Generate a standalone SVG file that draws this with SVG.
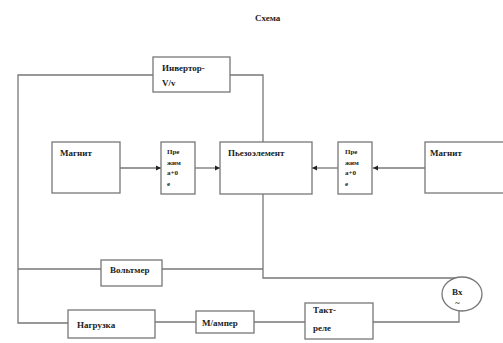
<svg xmlns="http://www.w3.org/2000/svg" width="503" height="343" viewBox="0 0 503 343">
<style>
.b{fill:#fff;stroke:#777;stroke-width:1.3}
.l{fill:none;stroke:#777;stroke-width:1.3}
.t{font-family:"Liberation Serif",serif;font-weight:bold;font-size:9px;fill:#222}
.s{font-size:7px}
</style>
<defs>
<marker id="a" markerWidth="6" markerHeight="6" refX="5" refY="3" orient="auto" markerUnits="userSpaceOnUse"><path d="M0,0.5 L5,3 L0,5.5 Z" fill="#222"/></marker>
</defs>
<rect width="503" height="343" fill="#fff"/>
<text class="t" x="255" y="21" font-size="9">Схема</text>
<g id="connectors">
<path class="l" d="M153,75 H18 V323 H68"/>
<path class="l" d="M230,75 H263 V142"/>
<path class="l" d="M263,194 V278 H459"/>
<path class="l" d="M18,269 H101"/>
<path class="l" d="M162,269 H263"/>
<path class="l" d="M459,311 V322 H373"/>
<path class="l" d="M305,322 H254"/>
<path class="l" d="M196,322 H155"/>
<path class="l" stroke="#333" d="M120,168 H161" marker-end="url(#a)"/>
<path class="l" stroke="#333" d="M195,168 H220" marker-end="url(#a)"/>
<path class="l" stroke="#333" d="M338,168 H312" marker-end="url(#a)"/>
<path class="l" stroke="#333" d="M425,168 H373" marker-end="url(#a)"/>
</g>
<g id="inverter"><rect class="b" x="153" y="57" width="77" height="35"/><text class="t" x="162" y="71" font-size="10">Инвертор-</text><text class="t" x="162" y="86" font-size="10">V/v</text></g>
<g id="magnet-left"><rect class="b" x="52" y="142" width="68" height="51"/><text class="t" x="60" y="156" font-size="10">Магнит</text></g>
<g id="conv-left"><rect class="b" x="161" y="142" width="34" height="52"/><text class="t s" x="167" y="154">Пре</text><text class="t s" x="167" y="165">жим</text><text class="t s" x="167" y="175">а+0</text><text class="t s" x="167" y="186">е</text></g>
<g id="piezo"><rect class="b" x="220" y="142" width="92" height="52"/><text class="t" x="228" y="156" font-size="10">Пьезоэлемент</text></g>
<g id="conv-right"><rect class="b" x="338" y="142" width="34" height="52"/><text class="t s" x="345" y="154">Пре</text><text class="t s" x="345" y="165">жим</text><text class="t s" x="345" y="175">а+0</text><text class="t s" x="345" y="186">е</text></g>
<g id="magnet-right"><rect class="b" x="425" y="142" width="80" height="51"/><text class="t" x="430" y="156" font-size="10">Магнит</text></g>
<g id="voltmeter"><rect class="b" x="101" y="260" width="61" height="26"/><text class="t" x="110" y="273" font-size="8.5">Вольтмер</text></g>
<g id="input"><ellipse class="b" cx="462" cy="294" rx="20" ry="17"/><text class="t" x="452" y="295">Вх</text><text class="t" x="455" y="306">~</text></g>
<g id="load"><rect class="b" x="68" y="310" width="87" height="28"/><text class="t" x="77" y="328" font-size="12">Нагрузка</text></g>
<g id="ammeter"><rect class="b" x="196" y="311" width="58" height="22"/><text class="t" x="202" y="326" font-size="10">М/ампер</text></g>
<g id="relay"><rect class="b" x="305" y="303" width="68" height="36"/><text class="t" x="313" y="313">Такт-</text><text class="t" x="313" y="331">реле</text></g>
</svg>
